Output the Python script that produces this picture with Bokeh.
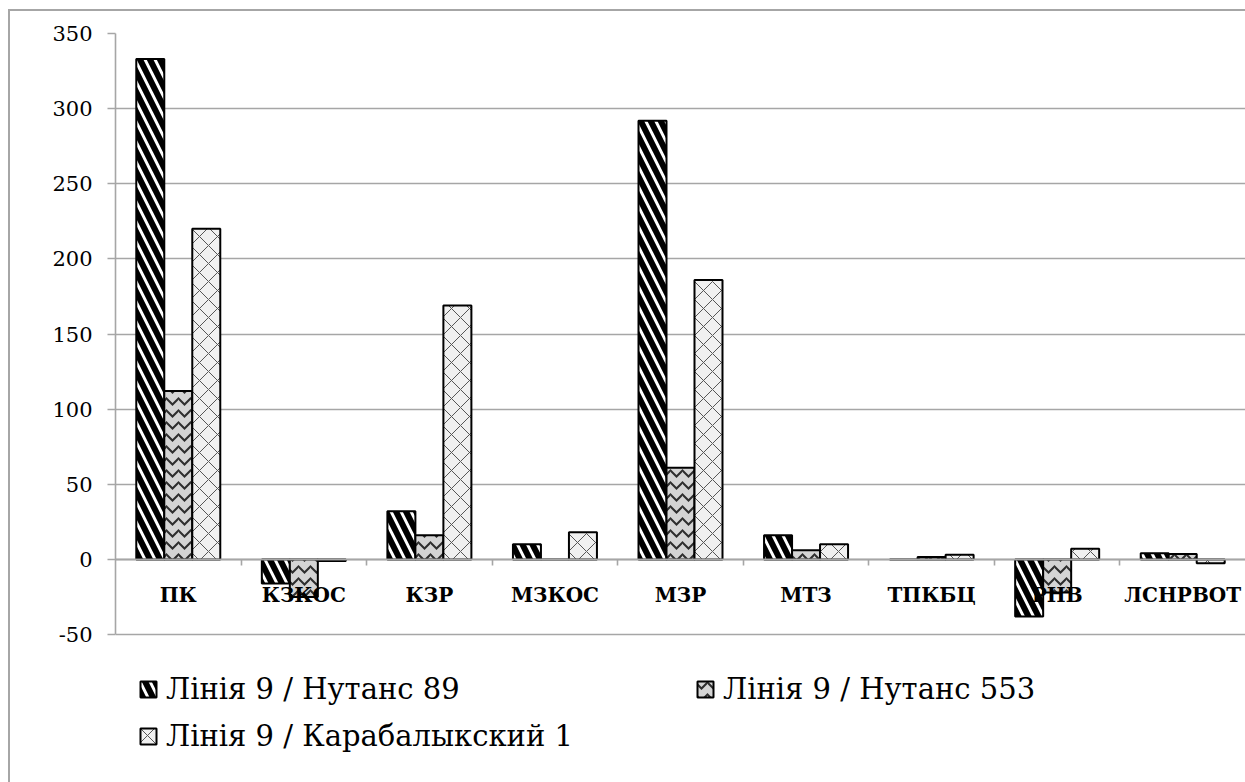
import numpy as np
from bokeh.plotting import figure
from bokeh.models import (Range1d, LinearAxis, FixedTicker, Legend, LegendItem,
                          ColumnDataSource)
from bokeh.transform import dodge
from bokeh.embed import file_html
from bokeh.resources import INLINE

categories = ["ПК", "КЗКОС", "КЗР", "МЗКОС", "МЗР", "МТЗ", "ТПКБЦ", "РНВ", "ЛСНРВОТ"]
series_names = ["Лінія 9 / Нутанс 89", "Лінія 9 / Нутанс 553", "Лінія 9 / Карабалыкский 1"]
nutans89 = [333, -16, 32, 10, 292, 16, 0, -38, 4]
nutans553 = [112, -25, 16, 0, 61, 6, 1.5, -22, 3.5]
karabalyk1 = [220, -1, 169, 18, 186, 10, 3, 7, -2.5]
y_ticks = [-50, 0, 50, 100, 150, 200, 250, 300, 350]

FONT = "DejaVu Serif"
GRID = "#a6a6a6"

W, H = 1235, 771
TOP, LEFT = 22, 105
AXIS_PX = 601          # pixel height of the -50..350 span
frame_h = H - TOP
y_lo = y_ticks[-1] - frame_h * (y_ticks[-1] - y_ticks[0]) / AXIS_PX

pos = list(np.arange(len(categories)) + 0.5)
src = ColumnDataSource(dict(pos=pos, s1=nutans89, s2=nutans553, s3=karabalyk1))

p = figure(width=W, height=H, x_range=Range1d(0, len(categories)),
           y_range=Range1d(y_lo, y_ticks[-1]),
           output_backend="svg", toolbar_location=None, x_axis_location=None,
           min_border_left=LEFT, min_border_top=TOP, min_border_right=0,
           min_border_bottom=0)
p.styles = {"margin-left": "10px", "margin-top": "11px", "outline": "2px solid #a6a6a6"}
p.outline_line_color = None
p.background_fill_color = "white"
p.border_fill_color = "white"

# grid
p.xgrid.visible = False
p.ygrid.ticker = FixedTicker(ticks=y_ticks)
p.ygrid.grid_line_color = GRID
p.ygrid.grid_line_width = 1.6

# y axis
ya = p.yaxis[0]
ya.ticker = FixedTicker(ticks=y_ticks)
ya.bounds = (y_ticks[0], y_ticks[-1])
ya.major_label_overrides = {t: str(t) for t in y_ticks}
ya.axis_line_color = GRID
ya.axis_line_width = 1.6
ya.major_tick_line_color = GRID
ya.major_tick_line_width = 1.6
ya.major_tick_in = 0
ya.major_tick_out = 8
ya.minor_tick_line_color = None
ya.major_label_standoff = 15
ya.major_label_text_font = FONT
ya.major_label_text_font_size = "21px"
ya.major_label_text_color = "black"

width = 0.223
specs = [
    ("s1", -width, dict(fill_color="white", hatch_pattern="\\", hatch_color="black",
                        hatch_weight=6, hatch_scale=20)),
    ("s2", 0.0, dict(fill_color="#d4d4d4", hatch_pattern="v", hatch_color="#2e2e2e",
                     hatch_weight=2, hatch_scale=12)),
    ("s3", width, dict(fill_color="#f0f0f0", hatch_pattern="x", hatch_color="#555555",
                       hatch_weight=1, hatch_scale=18)),
]
renderers = []
for col, off, style in specs:
    r = p.vbar(x=dodge("pos", off, range=p.x_range), top=col, bottom=0, width=width,
               source=src, line_color="black", line_width=2, **style)
    renderers.append(r)

# category labels axis at y=0
xlab = LinearAxis(fixed_location=0, ticker=FixedTicker(ticks=pos),
                  major_label_overrides={float(x): c for x, c in zip(pos, categories)})
xlab.axis_line_color = GRID
xlab.axis_line_width = 1.6
xlab.major_tick_line_color = None
xlab.minor_tick_line_color = None
xlab.major_label_standoff = 18
xlab.major_label_text_font = FONT
xlab.major_label_text_font_style = "bold"
xlab.major_label_text_font_size = "20px"
xlab.major_label_text_color = "black"
p.add_layout(xlab, "below")

# boundary ticks axis at y=0
bounds = list(np.arange(1, len(categories)))
xtk = LinearAxis(fixed_location=0, ticker=FixedTicker(ticks=[float(b) for b in bounds]))
xtk.axis_line_color = GRID
xtk.axis_line_width = 1.6
xtk.major_tick_line_color = GRID
xtk.major_tick_line_width = 1.6
xtk.major_tick_in = 0
xtk.major_tick_out = 6
xtk.minor_tick_line_color = None
xtk.major_label_text_font_size = "0px"
xtk.major_label_text_color = None
p.add_layout(xtk, "below")

legend = Legend(items=[LegendItem(label=n, renderers=[r]) for n, r in zip(series_names, renderers)],
                orientation="horizontal", ncols=2, location=(23, 29),
                label_text_font=FONT, label_text_font_size="29px",
                label_text_color="black",
                glyph_width=20, glyph_height=20, label_standoff=8, label_width=516,
                spacing=13, padding=0, margin=0,
                border_line_color=None, background_fill_alpha=0)
p.add_layout(legend, "center")

open("out.html", "w").write(file_html(p, INLINE))
